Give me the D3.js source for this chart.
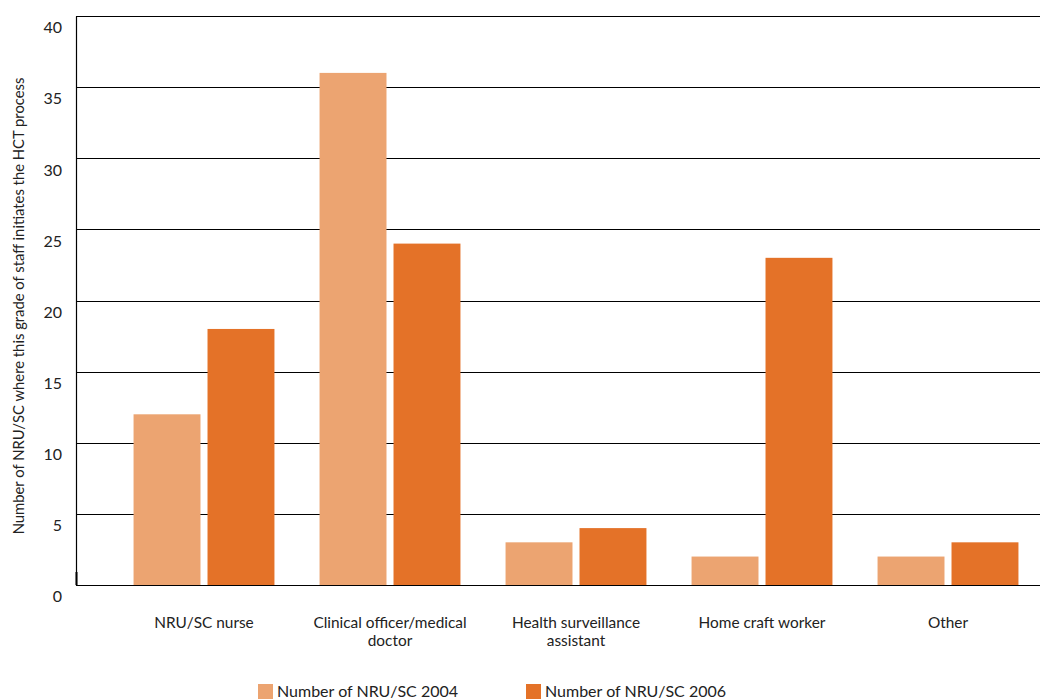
<!DOCTYPE html>
<html>
<head>
<meta charset="utf-8">
<script src="https://cdn.jsdelivr.net/npm/d3@7"></script>
<style>
  html, body { margin: 0; padding: 0; background: #fff; }
  svg { display: block; font-family: "Lato", "Open Sans", sans-serif; }
</style>
</head>
<body>
<svg id="chart" width="1040" height="699"></svg>
<script>
// Staff grade that initiates the HCT process, per NRU/SC
const categories = [
  ["NRU/SC nurse"],
  ["Clinical officer/medical", "doctor"],
  ["Health surveillance", "assistant"],
  ["Home craft worker"],
  ["Other"]
];
const seriesNames = ["Number of NRU/SC 2004", "Number of NRU/SC 2006"];
const values2004 = [12, 36, 3, 2, 2];
const values2006 = [18, 24, 4, 23, 3];
const yTicks = [0, 5, 10, 15, 20, 25, 30, 35, 40];
const colors = ["#eca471", "#e47228"];

const svg = d3.select("#chart");
const plot = { left: 76, right: 1040, top: 16, bottom: 585 };

const y = d3.scaleLinear().domain([0, 40]).range([plot.bottom, plot.top]);
const x0 = d3.scaleBand()
  .domain(d3.range(categories.length))
  .range([111, 1041])
  .paddingInner(0.2425)
  .paddingOuter(0.12125);
const x1 = d3.scaleBand()
  .domain([0, 1])
  .range([0, x0.bandwidth()])
  .paddingInner(0.095);

// horizontal gridlines
svg.append("g")
  .selectAll("line")
  .data(yTicks)
  .join("line")
  .attr("x1", plot.left)
  .attr("x2", plot.right)
  .attr("y1", d => Math.round(y(d)) + 0.5)
  .attr("y2", d => Math.round(y(d)) + 0.5)
  .attr("stroke", "#000")
  .attr("stroke-width", 1.2);

// y axis with labels sitting just under each gridline
const yAxis = d3.axisLeft(y).tickValues(yTicks).tickSize(0).tickPadding(14);
const gy = svg.append("g")
  .attr("transform", `translate(${plot.left},0)`)
  .call(yAxis);
gy.select(".domain").attr("stroke", "#000").attr("stroke-width", 1.2);
gy.selectAll("text")
  .attr("dy", "1.05em")
  .attr("font-size", 16)
  .attr("fill", "#222")
  .style("font-family", "Lato, 'Open Sans', sans-serif");

// short mark at the base of the axis
svg.append("line")
  .attr("x1", plot.left + 0.5).attr("x2", plot.left + 0.5)
  .attr("y1", y(0) - 13).attr("y2", y(0))
  .attr("stroke", "#000").attr("stroke-width", 2);

// bars
const series = [values2004, values2006];
const groups = svg.append("g")
  .selectAll("g")
  .data(categories.map((c, i) => i))
  .join("g")
  .attr("transform", i => `translate(${x0(i)},0)`);

groups.selectAll("rect")
  .data(i => series.map((s, k) => ({ k, v: s[i] })))
  .join("rect")
  .attr("x", d => x1(d.k))
  .attr("width", x1.bandwidth())
  .attr("y", d => y(d.v))
  .attr("height", d => y(0) - y(d.v))
  .attr("fill", d => colors[d.k]);

// category labels
const lab = svg.append("g")
  .selectAll("text")
  .data(categories)
  .join("text")
  .attr("x", (c, i) => x0(i) + x0.bandwidth() / 2)
  .attr("y", 628)
  .attr("text-anchor", "middle")
  .attr("font-size", 15.4)
  .attr("fill", "#222");
lab.selectAll("tspan")
  .data(c => c)
  .join("tspan")
  .attr("x", function () { return d3.select(this.parentNode).attr("x"); })
  .attr("dy", (d, j) => j === 0 ? 0 : 18)
  .text(d => d);

// y axis title
svg.append("text")
  .attr("transform", "translate(24,306) rotate(-90)")
  .attr("text-anchor", "middle")
  .attr("font-size", 14.8)
  .attr("fill", "#222")
  .text("Number of NRU/SC where this grade of staff initiates the HCT process");

// legend
const legendX = [258, 526];
const leg = svg.append("g")
  .selectAll("g")
  .data(seriesNames)
  .join("g")
  .attr("transform", (d, i) => `translate(${legendX[i]},684)`);
leg.append("rect")
  .attr("width", 15).attr("height", 15)
  .attr("fill", (d, i) => colors[i]);
leg.append("text")
  .attr("x", 19).attr("y", 13)
  .attr("font-size", 16)
  .attr("fill", "#222")
  .text(d => d);
</script>
</body>
</html>
